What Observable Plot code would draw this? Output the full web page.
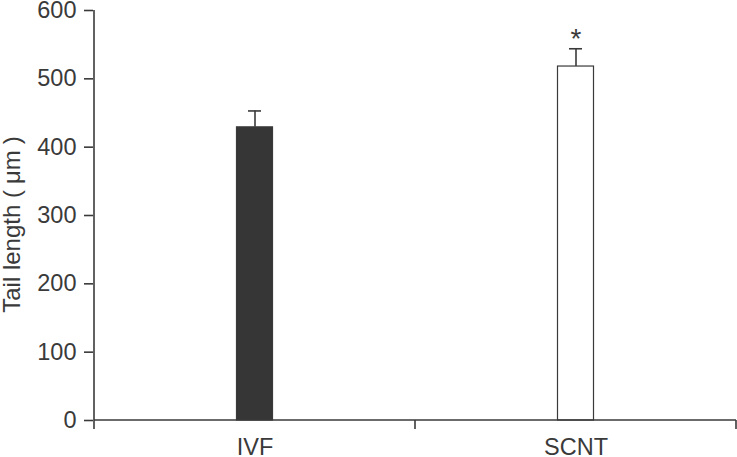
<!DOCTYPE html>
<html>
<head>
<meta charset="utf-8">
<script src="https://cdn.jsdelivr.net/npm/d3@7"></script>
<script src="https://cdn.jsdelivr.net/npm/@observablehq/plot@0.6"></script>
<style>
  html, body { margin: 0; padding: 0; background: #fff; }
  svg { display: block; }
</style>
</head>
<body>
<div id="chart"></div>
<script>
const categories = ["IVF", "SCNT"];
const means = [429, 518];
const upperErrors = [24, 26];
const significance = ["", "*"];
const fills = ["#363636", "#ffffff"];
const yTicks = [0, 100, 200, 300, 400, 500, 600];
const yLabel = "Tail length (\u2005\u03bcm\u2005)";

const data = categories.map((c, i) => ({
  cat: c, mean: means[i], top: means[i] + upperErrors[i], sig: significance[i], fill: fills[i]
}));

const ink = "#3a3a3a";
const font = "Liberation Sans, Arial, Helvetica, sans-serif";

function boundaryTicks(index, scales, values, dimensions) {
  const x = scales.x, y = scales.y;
  const bw = x.bandwidth();
  const y0 = y(0);
  const g = d3.create("svg:g").attr("stroke", ink).attr("stroke-width", 1.6);
  const xs = categories.map(c => x(c)).concat([x(categories[categories.length - 1]) + bw]);
  g.append("line").attr("x1", xs[0]).attr("x2", xs[0]).attr("y1", y(600)).attr("y2", y0 + 9);
  g.append("line").attr("x1", xs[0]).attr("x2", xs[xs.length - 1]).attr("y1", y0).attr("y2", y0);
  for (const xv of xs.slice(1)) {
    g.append("line").attr("x1", xv).attr("x2", xv).attr("y1", y0).attr("y2", y0 + 9);
  }
  return g.node();
}

const chart = Plot.plot({
  width: 737,
  height: 457,
  marginLeft: 93,
  marginRight: 1,
  marginTop: 10,
  marginBottom: 37,
  style: { fontFamily: font, background: "#fff", color: ink },
  x: { domain: categories, padding: 0, axis: null },
  y: { domain: [0, 600], axis: null },
  marks: [
    Plot.ruleX(data, { x: "cat", y1: "mean", y2: "top", stroke: ink, strokeWidth: 1.6 }),
    Plot.tickY(data, { x: "cat", y: "top", stroke: ink, strokeWidth: 1.6, insetLeft: 154, insetRight: 154 }),
    Plot.barY(data, { x: "cat", y: "mean", fill: "fill", stroke: ink, strokeWidth: 1.2, insetLeft: 142.5, insetRight: 142.5 }),
    Plot.text(data, { x: "cat", y: "top", text: "sig", dy: -10, fontSize: 28, fill: ink }),
    boundaryTicks,
    Plot.axisY({ ticks: yTicks, tickSize: 9, tickPadding: 8, fontSize: 23.5, stroke: ink, strokeWidth: 1.6, fill: ink, label: null }),
    Plot.axisX({ tickSize: 0, tickPadding: 18, fontSize: 23.5, fill: ink, label: null }),
    Plot.text([yLabel], { frameAnchor: "left", dx: -81, dy: 9, rotate: -90, textAnchor: "middle", text: d => d, fontSize: 24, fill: ink })
  ]
});
document.getElementById("chart").append(chart);
</script>
</body>
</html>
